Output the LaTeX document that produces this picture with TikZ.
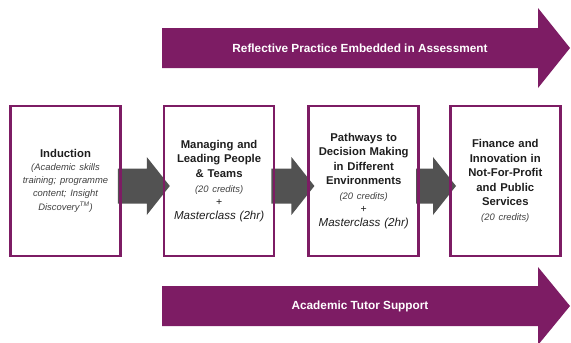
\documentclass[tikz,border=0pt]{standalone}
\usepackage{fontspec}
\setmainfont{Liberation Sans}
\usetikzlibrary{positioning, calc, backgrounds}

\definecolor{plum}{RGB}{125,28,100}
\definecolor{slate}{RGB}{82,82,82}
\definecolor{ink}{RGB}{30,30,30}

% grey block arrow from one module box to the next
\newcommand{\steparrow}[2]{%
  \fill[slate] ($(#1.east)+(-4,-12.5)$) -- ($(#2.west)+(-16,-12.5)$)
    -- ($(#2.west)+(-16,-24)$) -- ($(#2.west)+(7,5)$)
    -- ($(#2.west)+(-16,34)$) -- ($(#2.west)+(-16,22.5)$)
    -- ($(#1.east)+(-4,22.5)$) -- cycle;}
\newcommand{\credits}[1]{{\fontsize{9.4}{12}\selectfont\itshape\color{ink!85} #1}}
\newcommand{\plus}{{\fontsize{10.5}{12}\selectfont +}}
\newcommand{\masterclass}{{\fontsize{11.6}{14}\selectfont\itshape Masterclass (2hr)}}

\begin{document}
\begin{tikzpicture}[
        x=1pt, y=-1pt,
        module/.style={draw=plum, line width=2.6pt, minimum width=110pt, minimum height=150pt,
            text width=108pt, align=center, inner sep=0pt, text=ink,
            font=\fontsize{11.3}{14.5}\selectfont},
        band/.style={text=white, font=\fontsize{11.8}{14}\selectfont\bfseries}
    ]
    \useasboundingbox (0,0) rectangle (571,343);

    \fill[plum] (162,28) -- (538,28) -- (538,8) -- (570,48) -- (538,88) -- (538,68) -- (162,68) -- cycle;
    \node[band] (reflect) at (360,48) {Reflective Practice Embedded in Assessment};

    \fill[plum] (162,286) -- (538,286) -- (538,267) -- (570,306) -- (538,345) -- (538,326) -- (162,326) -- cycle;
    \node[band] (tutor) at (360,306) {Academic Tutor Support};

    \node[module] (induction) at (65.5,181) {\textbf{Induction}\\[-2pt]
        \credits{(Academic skills}\\[-1.5pt] \credits{training; programme}\\[-1.5pt] \credits{content; Insight}\\[-0.5pt]
        \credits{Discovery\textsuperscript{TM})}};
    \node[module, right=41pt of induction] (people) {\textbf{Managing and}\\ \textbf{Leading People}\\ \textbf{\& Teams}\\[1pt]
        \credits{(20 credits)}\\[-1.5pt] \plus\\[-0.5pt] \masterclass};
    \node[module, right=32pt of people] (pathways) {\textbf{Pathways to}\\ \textbf{Decision Making}\\ \textbf{in Different}\\ \textbf{Environments}\\
        \credits{(20 credits)}\\[-1.5pt] \plus\\[-0.5pt] \masterclass};
    \node[module, right=29pt of pathways] (finance) {\textbf{Finance and}\\ \textbf{Innovation in}\\ \textbf{Not-For-Profit}\\ \textbf{and Public}\\ \textbf{Services}\\
        \credits{(20 credits)}};

    \begin{scope}[on background layer]
        \steparrow{induction}{people}
        \steparrow{people}{pathways}
        \steparrow{pathways}{finance}
    \end{scope}
\end{tikzpicture}
\end{document}
